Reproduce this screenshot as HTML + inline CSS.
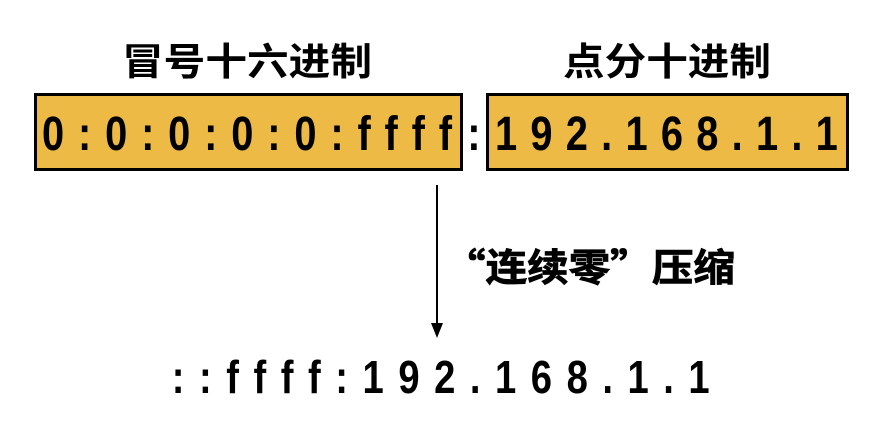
<!DOCTYPE html>
<html><head><meta charset="utf-8"><style>
html,body{margin:0;padding:0;background:#fff;}
svg{display:block;}
text{font-family:"Liberation Sans","Noto Sans CJK SC",sans-serif;font-weight:bold;fill:#000;}
text.cjk{font-family:"Noto Sans CJK SC",sans-serif;}
</style></head><body>
<svg width="884" height="434" viewBox="0 0 884 434">
<text x="122" y="75" font-size="38" textLength="250" lengthAdjust="spacingAndGlyphs">冒号十六进制</text>
<text x="563" y="75" font-size="38" textLength="208" lengthAdjust="spacingAndGlyphs">点分十进制</text>
<rect x="35.5" y="94.5" width="426" height="75" fill="#ECBA45" stroke="#000" stroke-width="3"/>
<rect x="487.5" y="94.5" width="360" height="75" fill="#ECBA45" stroke="#000" stroke-width="3"/>
<g transform="scale(0.83,1)">
<text x="50.6" y="150" font-size="48" textLength="494" lengthAdjust="spacing">0:0:0:0:0:ffff</text>
<text x="563" y="150" font-size="48">:</text>
<text x="596.4" y="150" font-size="48" textLength="413" lengthAdjust="spacing">192.168.1.1</text>
<text x="207" y="393" font-size="46" textLength="648" lengthAdjust="spacing">::ffff:192.168.1.1</text>
</g>
<line x1="437" y1="185" x2="437" y2="325" stroke="#000" stroke-width="2"/>
<polygon points="431,323 443,323 437,338" fill="#000"/>
<text class="cjk" x="444" y="281" font-size="38" textLength="291" lengthAdjust="spacingAndGlyphs" stroke="#000" stroke-width="0.8">“连续零”压缩</text>
</svg>
</body></html>
